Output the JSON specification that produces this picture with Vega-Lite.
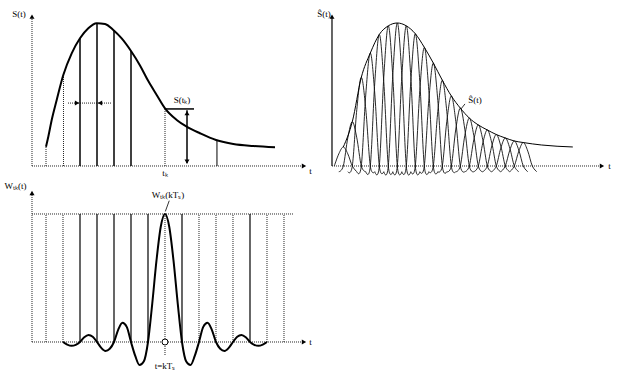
{
  "$schema": "https://vega.github.io/schema/vega-lite/v6.json",
  "padding": 0,
  "spacing": 0,
  "background": "white",
  "config": {"view": {"stroke": null}},
  "datasets": {
    "a_seg": [
      {"u": 0, "v": 0, "u2": 0, "v2": 1.035, "s": "dot"},
      {"u": 0, "v": 0, "u2": 15.95, "v2": 0, "s": "dot"},
      {"u": 0.824, "v": 0, "u2": 0.824, "v2": 0.135, "s": "dot"},
      {"u": 1.853, "v": 0, "u2": 1.853, "v2": 0.64, "s": "dot"},
      {"u": 2.824, "v": 0, "u2": 2.824, "v2": 0.893, "s": "solid"},
      {"u": 3.824, "v": 0, "u2": 3.824, "v2": 1.0, "s": "solid"},
      {"u": 4.824, "v": 0, "u2": 4.824, "v2": 0.946, "s": "solid"},
      {"u": 5.824, "v": 0, "u2": 5.824, "v2": 0.804, "s": "solid"},
      {"u": 7.824, "v": 0, "u2": 7.824, "v2": 0.403, "s": "dot"},
      {"u": 10.88, "v": 0, "u2": 10.88, "v2": 0.18, "s": "thin"},
      {"u": 2.118, "v": 0.44, "u2": 4.647, "v2": 0.44, "s": "dot"},
      {"u": 7.824, "v": 0.399, "u2": 9.53, "v2": 0.399, "s": "solid"},
      {"u": 9.118, "v": 0.02, "u2": 9.118, "v2": 0.39, "s": "solid"}
    ],
    "a_curve": [
      {"u": 0.824, "v": 0.135}, {"u": 0.959, "v": 0.205}, {"u": 1.159, "v": 0.322},
      {"u": 1.453, "v": 0.462}, {"u": 1.841, "v": 0.636}, {"u": 2.335, "v": 0.788},
      {"u": 2.824, "v": 0.893}, {"u": 3.312, "v": 0.963}, {"u": 3.806, "v": 0.998},
      {"u": 4.294, "v": 0.993}, {"u": 4.782, "v": 0.951}, {"u": 5.276, "v": 0.892},
      {"u": 5.824, "v": 0.804}, {"u": 6.353, "v": 0.703}, {"u": 6.841, "v": 0.594},
      {"u": 7.335, "v": 0.497}, {"u": 7.824, "v": 0.403}, {"u": 8.512, "v": 0.322},
      {"u": 9.1, "v": 0.275}, {"u": 9.882, "v": 0.229}, {"u": 10.824, "v": 0.182},
      {"u": 11.841, "v": 0.154}, {"u": 13.018, "v": 0.14}, {"u": 14.294, "v": 0.131}
    ],
    "a_arrow": [
      {"u": 0, "v": 1.045, "d": "up"},
      {"u": 16.0, "v": 0, "d": "right"},
      {"u": 2.65, "v": 0.44, "d": "right"},
      {"u": 4.0, "v": 0.44, "d": "left"},
      {"u": 9.118, "v": 0.37, "d": "up"},
      {"u": 9.118, "v": 0.03, "d": "down"}
    ],
    "a_text": [
      {"u": -0.765, "v": 1.063, "t": "S(t)"},
      {"u": 16.38, "v": -0.035, "t": "t"},
      {"u": 8.82, "v": 0.46, "t": "S(tₖ)"},
      {"u": 7.824, "v": -0.052, "t": "tₖ"}
    ],
    "b_seg": [
      {"u": -1.256, "v": 0, "u2": -1.256, "v2": 1.035, "s": "solid"},
      {"u": -1.256, "v": 0, "u2": 28.74, "v2": 0, "s": "dot"},
      {"u": 13.08, "v": 0.399, "u2": 13.52, "v2": 0.434, "s": "thin"}
    ],
    "b_env": [
      {"u": 0, "v": 0.133}, {"u": 1, "v": 0.31}, {"u": 2, "v": 0.62}, {"u": 3, "v": 0.79},
      {"u": 4, "v": 0.92}, {"u": 5, "v": 0.98}, {"u": 6, "v": 1.0}, {"u": 7, "v": 0.98},
      {"u": 8, "v": 0.925}, {"u": 9, "v": 0.83}, {"u": 10, "v": 0.72}, {"u": 11, "v": 0.6},
      {"u": 12, "v": 0.49}, {"u": 13, "v": 0.405}, {"u": 14, "v": 0.335}, {"u": 15, "v": 0.287},
      {"u": 16, "v": 0.252}, {"u": 17, "v": 0.22}, {"u": 18, "v": 0.196}, {"u": 19, "v": 0.175},
      {"u": 20, "v": 0.164}, {"u": 22, "v": 0.147}, {"u": 25.5, "v": 0.133}
    ],
    "b_lobes": [
      {"k": 0, "u": -1, "v": 0}, {"k": 0, "u": -0.5, "v": 0.085}, {"k": 0, "u": 0, "v": 0.133}, {"k": 0, "u": 0.5, "v": 0.085}, {"k": 0, "u": 1, "v": 0}, {"k": 0, "u": 1.5, "v": -0.04},
      {"k": 1, "u": -0.5, "v": -0.04}, {"k": 1, "u": 0, "v": 0}, {"k": 1, "u": 0.5, "v": 0.197}, {"k": 1, "u": 1, "v": 0.31}, {"k": 1, "u": 1.5, "v": 0.197}, {"k": 1, "u": 2, "v": 0}, {"k": 1, "u": 2.5, "v": -0.04},
      {"k": 2, "u": 0.5, "v": -0.04}, {"k": 2, "u": 1, "v": 0}, {"k": 2, "u": 1.5, "v": 0.395}, {"k": 2, "u": 2, "v": 0.62}, {"k": 2, "u": 2.5, "v": 0.395}, {"k": 2, "u": 3, "v": 0}, {"k": 2, "u": 3.5, "v": -0.04},
      {"k": 3, "u": 1.5, "v": -0.04}, {"k": 3, "u": 2, "v": 0}, {"k": 3, "u": 2.5, "v": 0.503}, {"k": 3, "u": 3, "v": 0.79}, {"k": 3, "u": 3.5, "v": 0.503}, {"k": 3, "u": 4, "v": 0}, {"k": 3, "u": 4.5, "v": -0.04},
      {"k": 4, "u": 2.5, "v": -0.04}, {"k": 4, "u": 3, "v": 0}, {"k": 4, "u": 3.5, "v": 0.586}, {"k": 4, "u": 4, "v": 0.92}, {"k": 4, "u": 4.5, "v": 0.586}, {"k": 4, "u": 5, "v": 0}, {"k": 4, "u": 5.5, "v": -0.04},
      {"k": 5, "u": 3.5, "v": -0.04}, {"k": 5, "u": 4, "v": 0}, {"k": 5, "u": 4.5, "v": 0.624}, {"k": 5, "u": 5, "v": 0.98}, {"k": 5, "u": 5.5, "v": 0.624}, {"k": 5, "u": 6, "v": 0}, {"k": 5, "u": 6.5, "v": -0.04},
      {"k": 6, "u": 4.5, "v": -0.04}, {"k": 6, "u": 5, "v": 0}, {"k": 6, "u": 5.5, "v": 0.637}, {"k": 6, "u": 6, "v": 1.0}, {"k": 6, "u": 6.5, "v": 0.637}, {"k": 6, "u": 7, "v": 0}, {"k": 6, "u": 7.5, "v": -0.04},
      {"k": 7, "u": 5.5, "v": -0.04}, {"k": 7, "u": 6, "v": 0}, {"k": 7, "u": 6.5, "v": 0.624}, {"k": 7, "u": 7, "v": 0.98}, {"k": 7, "u": 7.5, "v": 0.624}, {"k": 7, "u": 8, "v": 0}, {"k": 7, "u": 8.5, "v": -0.04},
      {"k": 8, "u": 6.5, "v": -0.04}, {"k": 8, "u": 7, "v": 0}, {"k": 8, "u": 7.5, "v": 0.589}, {"k": 8, "u": 8, "v": 0.925}, {"k": 8, "u": 8.5, "v": 0.589}, {"k": 8, "u": 9, "v": 0}, {"k": 8, "u": 9.5, "v": -0.04},
      {"k": 9, "u": 7.5, "v": -0.04}, {"k": 9, "u": 8, "v": 0}, {"k": 9, "u": 8.5, "v": 0.529}, {"k": 9, "u": 9, "v": 0.83}, {"k": 9, "u": 9.5, "v": 0.529}, {"k": 9, "u": 10, "v": 0}, {"k": 9, "u": 10.5, "v": -0.04},
      {"k": 10, "u": 8.5, "v": -0.04}, {"k": 10, "u": 9, "v": 0}, {"k": 10, "u": 9.5, "v": 0.459}, {"k": 10, "u": 10, "v": 0.72}, {"k": 10, "u": 10.5, "v": 0.459}, {"k": 10, "u": 11, "v": 0}, {"k": 10, "u": 11.5, "v": -0.04},
      {"k": 11, "u": 9.5, "v": -0.04}, {"k": 11, "u": 10, "v": 0}, {"k": 11, "u": 10.5, "v": 0.382}, {"k": 11, "u": 11, "v": 0.6}, {"k": 11, "u": 11.5, "v": 0.382}, {"k": 11, "u": 12, "v": 0}, {"k": 11, "u": 12.5, "v": -0.04},
      {"k": 12, "u": 10.5, "v": -0.04}, {"k": 12, "u": 11, "v": 0}, {"k": 12, "u": 11.5, "v": 0.312}, {"k": 12, "u": 12, "v": 0.49}, {"k": 12, "u": 12.5, "v": 0.312}, {"k": 12, "u": 13, "v": 0}, {"k": 12, "u": 13.5, "v": -0.04},
      {"k": 13, "u": 11.5, "v": -0.04}, {"k": 13, "u": 12, "v": 0}, {"k": 13, "u": 12.5, "v": 0.258}, {"k": 13, "u": 13, "v": 0.405}, {"k": 13, "u": 13.5, "v": 0.258}, {"k": 13, "u": 14, "v": 0}, {"k": 13, "u": 14.5, "v": -0.04},
      {"k": 14, "u": 12.5, "v": -0.04}, {"k": 14, "u": 13, "v": 0}, {"k": 14, "u": 13.5, "v": 0.213}, {"k": 14, "u": 14, "v": 0.335}, {"k": 14, "u": 14.5, "v": 0.213}, {"k": 14, "u": 15, "v": 0}, {"k": 14, "u": 15.5, "v": -0.04},
      {"k": 15, "u": 13.5, "v": -0.04}, {"k": 15, "u": 14, "v": 0}, {"k": 15, "u": 14.5, "v": 0.183}, {"k": 15, "u": 15, "v": 0.287}, {"k": 15, "u": 15.5, "v": 0.183}, {"k": 15, "u": 16, "v": 0}, {"k": 15, "u": 16.5, "v": -0.04},
      {"k": 16, "u": 14.5, "v": -0.04}, {"k": 16, "u": 15, "v": 0}, {"k": 16, "u": 15.5, "v": 0.161}, {"k": 16, "u": 16, "v": 0.252}, {"k": 16, "u": 16.5, "v": 0.161}, {"k": 16, "u": 17, "v": 0}, {"k": 16, "u": 17.5, "v": -0.04},
      {"k": 17, "u": 15.5, "v": -0.04}, {"k": 17, "u": 16, "v": 0}, {"k": 17, "u": 16.5, "v": 0.14}, {"k": 17, "u": 17, "v": 0.22}, {"k": 17, "u": 17.5, "v": 0.14}, {"k": 17, "u": 18, "v": 0}, {"k": 17, "u": 18.5, "v": -0.04},
      {"k": 18, "u": 16.5, "v": -0.04}, {"k": 18, "u": 17, "v": 0}, {"k": 18, "u": 17.5, "v": 0.125}, {"k": 18, "u": 18, "v": 0.196}, {"k": 18, "u": 18.5, "v": 0.125}, {"k": 18, "u": 19, "v": 0}, {"k": 18, "u": 19.5, "v": -0.04},
      {"k": 19, "u": 17.5, "v": -0.04}, {"k": 19, "u": 18, "v": 0}, {"k": 19, "u": 18.5, "v": 0.111}, {"k": 19, "u": 19, "v": 0.175}, {"k": 19, "u": 19.5, "v": 0.111}, {"k": 19, "u": 20, "v": 0}, {"k": 19, "u": 20.5, "v": -0.04},
      {"k": 20, "u": 18.5, "v": -0.04}, {"k": 20, "u": 19, "v": 0}, {"k": 20, "u": 19.5, "v": 0.104}, {"k": 20, "u": 20, "v": 0.164}, {"k": 20, "u": 20.5, "v": 0.104}, {"k": 20, "u": 21, "v": 0}, {"k": 20, "u": 21.5, "v": -0.04}
    ],
    "b_arrow": [
      {"u": -1.256, "v": 1.045, "d": "up"},
      {"u": 28.74, "v": 0, "d": "right"}
    ],
    "b_text": [
      {"u": -2.15, "v": 1.063, "t": "Ŝ(t)"},
      {"u": 14.63, "v": 0.4615, "t": "Ŝ(t)"},
      {"u": 29.58, "v": 0, "t": "t"}
    ],
    "c_seg": [
      {"u": -7.824, "v": 0, "u2": -7.824, "v2": 1.15, "s": "dot"},
      {"u": -7.824, "v": 0, "u2": 8.176, "v2": 0, "s": "dot"},
      {"u": -7.824, "v": 1, "u2": 7.53, "v2": 1, "s": "dot"},
      {"u": 0, "v": -0.1016, "u2": 0, "v2": 1, "s": "dot"},
      {"u": -7, "v": 0, "u2": -7, "v2": 1, "s": "dot"},
      {"u": -6, "v": 0, "u2": -6, "v2": 1, "s": "dot"},
      {"u": -5, "v": 0, "u2": -5, "v2": 1, "s": "solid"},
      {"u": -4, "v": 0, "u2": -4, "v2": 1, "s": "solid"},
      {"u": -3, "v": 0, "u2": -3, "v2": 1, "s": "solid"},
      {"u": -2, "v": 0, "u2": -2, "v2": 1, "s": "solid"},
      {"u": -1, "v": 0, "u2": -1, "v2": 1, "s": "solid"},
      {"u": 1, "v": 0, "u2": 1, "v2": 1, "s": "solid"},
      {"u": 2, "v": 0, "u2": 2, "v2": 1, "s": "dot"},
      {"u": 3, "v": 0, "u2": 3, "v2": 1, "s": "dot"},
      {"u": 4, "v": 0, "u2": 4, "v2": 1, "s": "dot"},
      {"u": 5, "v": 0, "u2": 5, "v2": 1, "s": "solid"},
      {"u": 6, "v": 0, "u2": 6, "v2": 1, "s": "dot"},
      {"u": 7, "v": 0, "u2": 7, "v2": 1, "s": "dot"},
      {"u": 0.25, "v": 1.104, "u2": 0.02, "v2": 1.02, "s": "thin"}
    ],
    "c_sinc": [
      {"u": -6, "v": 0}, {"u": -5.75, "v": -0.02}, {"u": -5.5, "v": -0.03}, {"u": -5.25, "v": -0.022},
      {"u": -5, "v": 0}, {"u": -4.75, "v": 0.037}, {"u": -4.5, "v": 0.055}, {"u": -4.25, "v": 0.041},
      {"u": -4, "v": 0}, {"u": -3.75, "v": -0.046}, {"u": -3.5, "v": -0.07}, {"u": -3.25, "v": -0.053},
      {"u": -3, "v": 0}, {"u": -2.75, "v": 0.097}, {"u": -2.5, "v": 0.15}, {"u": -2.25, "v": 0.118},
      {"u": -2, "v": 0}, {"u": -1.75, "v": -0.109}, {"u": -1.5, "v": -0.18}, {"u": -1.25, "v": -0.153},
      {"u": -1, "v": 0}, {"u": -0.75, "v": 0.3}, {"u": -0.5, "v": 0.637}, {"u": -0.25, "v": 0.9},
      {"u": 0, "v": 1},
      {"u": 0.25, "v": 0.9}, {"u": 0.5, "v": 0.637}, {"u": 0.75, "v": 0.3}, {"u": 1, "v": 0},
      {"u": 1.25, "v": -0.153}, {"u": 1.5, "v": -0.18}, {"u": 1.75, "v": -0.109}, {"u": 2, "v": 0},
      {"u": 2.25, "v": 0.118}, {"u": 2.5, "v": 0.15}, {"u": 2.75, "v": 0.097}, {"u": 3, "v": 0},
      {"u": 3.25, "v": -0.053}, {"u": 3.5, "v": -0.07}, {"u": 3.75, "v": -0.046}, {"u": 4, "v": 0},
      {"u": 4.25, "v": 0.041}, {"u": 4.5, "v": 0.055}, {"u": 4.75, "v": 0.037}, {"u": 5, "v": 0},
      {"u": 5.25, "v": -0.022}, {"u": 5.5, "v": -0.03}, {"u": 5.75, "v": -0.02}, {"u": 6, "v": 0}
    ],
    "c_arrow": [
      {"u": -7.824, "v": 1.164, "d": "up"},
      {"u": 8.176, "v": 0, "d": "right"}
    ],
    "c_circle": [{"u": 0, "v": 0}],
    "c_text": [
      {"u": -8.8, "v": 1.215, "t": "Wₜₖ(t)"},
      {"u": 0.18, "v": 1.148, "t": "Wₜₖ(kTₛ)"},
      {"u": 0, "v": -0.1875, "t": "t=kTₛ"},
      {"u": 8.56, "v": 0, "t": "t"}
    ]
  },
  "vconcat": [
    {
      "spacing": 0,
      "bounds": "flush",
      "hconcat": [
        {
          "width": 316,
          "height": 180,
          "encoding": {
            "x": {"field": "u", "type": "quantitative", "scale": {"domain": [-1.882, 16.706], "nice": false, "zero": false}, "axis": null},
            "y": {"field": "v", "type": "quantitative", "scale": {"domain": [-0.0979, 1.1608], "nice": false, "zero": false}, "axis": null}
          },
          "layer": [
            {"data": {"name": "a_seg"}, "transform": [{"filter": "datum.s == 'dot'"}], "mark": {"type": "rule", "color": "#222", "strokeWidth": 1, "strokeDash": [1, 1]}, "encoding": {"x2": {"field": "u2"}, "y2": {"field": "v2"}}},
            {"data": {"name": "a_seg"}, "transform": [{"filter": "datum.s == 'solid'"}], "mark": {"type": "rule", "color": "#000", "strokeWidth": 1.5}, "encoding": {"x2": {"field": "u2"}, "y2": {"field": "v2"}}},
            {"data": {"name": "a_seg"}, "transform": [{"filter": "datum.s == 'thin'"}], "mark": {"type": "rule", "color": "#000", "strokeWidth": 1}, "encoding": {"x2": {"field": "u2"}, "y2": {"field": "v2"}}},
            {"data": {"name": "a_curve"}, "mark": {"type": "line", "interpolate": "monotone", "color": "#000", "strokeWidth": 2}, "encoding": {}},
            {"data": {"name": "a_arrow"}, "mark": {"type": "point", "filled": true, "color": "#000", "size": 25, "opacity": 1}, "encoding": {"shape": {"field": "d", "type": "nominal", "scale": {"domain": ["up", "down", "left", "right"], "range": ["triangle-up", "triangle-down", "triangle-left", "triangle-right"]}, "legend": null}}},
            {"data": {"name": "a_text"}, "mark": {"type": "text", "font": "Liberation Serif", "fontSize": 9, "color": "#000", "baseline": "middle"}, "encoding": {"text": {"field": "t"}}}
          ]
        },
        {
          "width": 307,
          "height": 180,
          "encoding": {
            "x": {"field": "u", "type": "quantitative", "scale": {"domain": [-3.033, 31.078], "nice": false, "zero": false}, "axis": null},
            "y": {"field": "v", "type": "quantitative", "scale": {"domain": [-0.0979, 1.1608], "nice": false, "zero": false}, "axis": null}
          },
          "layer": [
            {"data": {"name": "b_seg"}, "transform": [{"filter": "datum.s == 'dot'"}], "mark": {"type": "rule", "color": "#222", "strokeWidth": 1, "strokeDash": [1, 1]}, "encoding": {"x2": {"field": "u2"}, "y2": {"field": "v2"}}},
            {"data": {"name": "b_seg"}, "transform": [{"filter": "datum.s == 'solid'"}], "mark": {"type": "rule", "color": "#000", "strokeWidth": 1.2}, "encoding": {"x2": {"field": "u2"}, "y2": {"field": "v2"}}},
            {"data": {"name": "b_seg"}, "transform": [{"filter": "datum.s == 'thin'"}], "mark": {"type": "rule", "color": "#000", "strokeWidth": 0.8}, "encoding": {"x2": {"field": "u2"}, "y2": {"field": "v2"}}},
            {"data": {"name": "b_lobes"}, "mark": {"type": "line", "interpolate": "cardinal", "color": "#111", "strokeWidth": 0.9}, "encoding": {"detail": {"field": "k", "type": "nominal"}}},
            {"data": {"name": "b_env"}, "mark": {"type": "line", "interpolate": "monotone", "color": "#000", "strokeWidth": 1}, "encoding": {}},
            {"data": {"name": "b_arrow"}, "mark": {"type": "point", "filled": true, "color": "#000", "size": 25, "opacity": 1}, "encoding": {"shape": {"field": "d", "type": "nominal", "scale": {"domain": ["up", "down", "left", "right"], "range": ["triangle-up", "triangle-down", "triangle-left", "triangle-right"]}, "legend": null}}},
            {"data": {"name": "b_text"}, "mark": {"type": "text", "font": "Liberation Serif", "fontSize": 9, "color": "#000", "baseline": "middle"}, "encoding": {"text": {"field": "t"}}}
          ]
        }
      ]
    },
    {
      "width": 320,
      "height": 202,
      "encoding": {
        "x": {"field": "u", "type": "quantitative", "scale": {"domain": [-9.706, 9.118], "nice": false, "zero": false}, "axis": null},
        "y": {"field": "v", "type": "quantitative", "scale": {"domain": [-0.3125, 1.2656], "nice": false, "zero": false}, "axis": null}
      },
      "layer": [
        {"data": {"name": "c_seg"}, "transform": [{"filter": "datum.s == 'dot'"}], "mark": {"type": "rule", "color": "#222", "strokeWidth": 1, "strokeDash": [1, 1]}, "encoding": {"x2": {"field": "u2"}, "y2": {"field": "v2"}}},
        {"data": {"name": "c_seg"}, "transform": [{"filter": "datum.s == 'solid'"}], "mark": {"type": "rule", "color": "#000", "strokeWidth": 1.2}, "encoding": {"x2": {"field": "u2"}, "y2": {"field": "v2"}}},
        {"data": {"name": "c_seg"}, "transform": [{"filter": "datum.s == 'thin'"}], "mark": {"type": "rule", "color": "#000", "strokeWidth": 0.8}, "encoding": {"x2": {"field": "u2"}, "y2": {"field": "v2"}}},
        {"data": {"name": "c_sinc"}, "mark": {"type": "line", "interpolate": "monotone", "color": "#000", "strokeWidth": 2}, "encoding": {}},
        {"data": {"name": "c_arrow"}, "mark": {"type": "point", "filled": true, "color": "#000", "size": 25, "opacity": 1}, "encoding": {"shape": {"field": "d", "type": "nominal", "scale": {"domain": ["up", "down", "left", "right"], "range": ["triangle-up", "triangle-down", "triangle-left", "triangle-right"]}, "legend": null}}},
        {"data": {"name": "c_circle"}, "mark": {"type": "point", "shape": "circle", "fill": "white", "stroke": "#000", "strokeWidth": 1, "size": 36, "opacity": 1, "fillOpacity": 1}, "encoding": {}},
        {"data": {"name": "c_text"}, "mark": {"type": "text", "font": "Liberation Serif", "fontSize": 9, "color": "#000", "baseline": "middle"}, "encoding": {"text": {"field": "t"}}}
      ]
    }
  ]
}
